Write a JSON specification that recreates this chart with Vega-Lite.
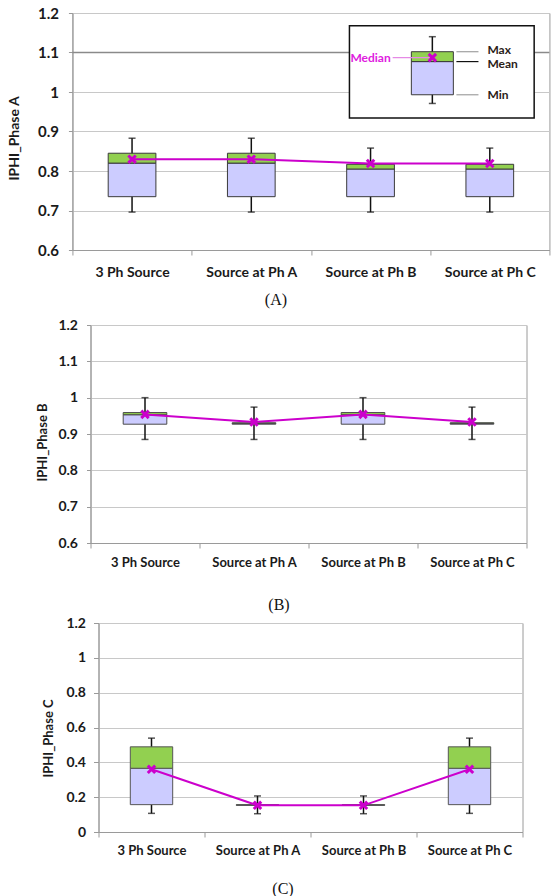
{
  "$schema": "https://vega.github.io/schema/vega-lite/v6.json",
  "background": "white",
  "padding": {"left": 6, "top": 5, "right": 0, "bottom": 0},
  "config": {
    "view": {"stroke": "#9a9a9a", "strokeWidth": 1},
    "font": "Lato",
    "axis": {
      "labelFont": "Lato", "labelFontWeight": "bold", "labelColor": "#1a1a1a",
      "titleFont": "Lato", "titleFontWeight": "bold", "titleColor": "#1a1a1a",
      "domainColor": "#9a9a9a", "tickColor": "#9a9a9a", "gridColor": "#c8c8c8"
    }
  },
  "datasets": {
    "A": [
      {"cat": "3 Ph Source", "wlo": 0.696, "blo": 0.735, "mean": 0.820, "bhi": 0.845, "med": 0.830, "whi": 0.883},
      {"cat": "Source at Ph A", "wlo": 0.696, "blo": 0.735, "mean": 0.820, "bhi": 0.845, "med": 0.830, "whi": 0.883},
      {"cat": "Source at Ph B", "wlo": 0.696, "blo": 0.735, "mean": 0.805, "bhi": 0.817, "med": 0.819, "whi": 0.858},
      {"cat": "Source at Ph C", "wlo": 0.696, "blo": 0.735, "mean": 0.805, "bhi": 0.817, "med": 0.819, "whi": 0.858}
    ],
    "B": [
      {"cat": "3 Ph Source", "wlo": 0.885, "blo": 0.927, "mean": 0.953, "bhi": 0.959, "med": 0.954, "whi": 1.0},
      {"cat": "Source at Ph A", "wlo": 0.885, "blo": 0.927, "mean": 0.929, "bhi": 0.931, "med": 0.933, "whi": 0.974},
      {"cat": "Source at Ph B", "wlo": 0.885, "blo": 0.927, "mean": 0.953, "bhi": 0.959, "med": 0.954, "whi": 1.0},
      {"cat": "Source at Ph C", "wlo": 0.885, "blo": 0.927, "mean": 0.929, "bhi": 0.931, "med": 0.933, "whi": 0.974}
    ],
    "C": [
      {"cat": "3 Ph Source", "wlo": 0.107, "blo": 0.157, "mean": 0.366, "bhi": 0.489, "med": 0.360, "whi": 0.539},
      {"cat": "Source at Ph A", "wlo": 0.105, "blo": 0.153, "mean": 0.155, "bhi": 0.157, "med": 0.153, "whi": 0.207},
      {"cat": "Source at Ph B", "wlo": 0.105, "blo": 0.153, "mean": 0.155, "bhi": 0.157, "med": 0.153, "whi": 0.207},
      {"cat": "Source at Ph C", "wlo": 0.107, "blo": 0.157, "mean": 0.366, "bhi": 0.489, "med": 0.360, "whi": 0.539}
    ],
    "legBox": [{"x1": 2.823, "x2": 4.372, "y1": 0.934, "y2": 1.168}],
    "legPlot": [{"lx": 3.54, "wlo": 0.971, "blo": 0.993, "mean": 1.077, "bhi": 1.102, "med": 1.087, "whi": 1.140}],
    "legLeaders": [
      {"label": "Max", "v": 1.102, "ly": 1.106},
      {"label": "Mean", "v": 1.077, "ly": 1.070},
      {"label": "Min", "v": 0.993, "ly": 0.992}
    ],
    "refLine": [{"v": 1.1}],
    "empty": [{}]
  },
  "spacing": 2,
  "center": true,
  "vconcat": [
    {
      "width": 477, "height": 237,
      "resolve": {"scale": {"x": "independent"}},
      "layer": [
        {
          "data": {"name": "A"},
          "encoding": {
            "x": {"field": "cat", "type": "nominal", "sort": null,
              "scale": {"paddingInner": 0, "paddingOuter": 0},
              "axis": {"title": ["(A)", ""], "titleFont": "Liberation Serif", "titleFontWeight": "normal", "titleFontSize": 16, "titleLineHeight": 7, "titleColor": "#111", "titlePadding": 12, "titleX": 203, "titleAlign": "center",
                "labelAngle": 0, "labelFontSize": 14, "labelPadding": 10, "tickBand": "extent", "tickSize": 5, "grid": false}}
          },
          "layer": [
            {"mark": {"type": "rule", "color": "#111", "strokeWidth": 1.5},
              "encoding": {"y": {"field": "wlo", "type": "quantitative", "scale": {"domain": [0.6, 1.2]}, "title": "IPHI_Phase A",
                "axis": {"title": "IPHI_Phase A", "values": [0.6, 0.7, 0.8, 0.9, 1, 1.1, 1.2], "tickCount": 12, "format": "~g", "labelFontSize": 15, "labelPadding": 10, "tickSize": 4, "titleFontSize": 14, "titlePadding": 16, "titleY": 125, "grid": true}},
                "y2": {"field": "whi"}}},
            {"mark": {"type": "tick", "color": "#111", "thickness": 1.5, "size": 7},
              "encoding": {"y": {"field": "wlo", "type": "quantitative", "scale": {"domain": [0.6, 1.2]}, "title": "IPHI_Phase A"}}},
            {"mark": {"type": "tick", "color": "#111", "thickness": 1.5, "size": 7},
              "encoding": {"y": {"field": "whi", "type": "quantitative", "scale": {"domain": [0.6, 1.2]}, "title": "IPHI_Phase A"}}},
            {"mark": {"type": "bar", "fill": "#ccccff", "stroke": "#3a3a3a", "strokeWidth": 1, "width": {"band": 0.4}},
              "encoding": {"y": {"field": "blo", "type": "quantitative", "scale": {"domain": [0.6, 1.2]}, "title": "IPHI_Phase A"}, "y2": {"field": "mean"}}},
            {"mark": {"type": "bar", "fill": "#92d050", "stroke": "#3a3a3a", "strokeWidth": 1, "width": {"band": 0.4}},
              "encoding": {"y": {"field": "mean", "type": "quantitative", "scale": {"domain": [0.6, 1.2]}, "title": "IPHI_Phase A"}, "y2": {"field": "bhi"}}},
            {"mark": {"type": "line", "color": "#cc00cc", "strokeWidth": 2},
              "encoding": {"y": {"field": "med", "type": "quantitative", "scale": {"domain": [0.6, 1.2]}, "title": "IPHI_Phase A"}}},
            {"mark": {"type": "point", "shape": "M-1,-1L1,1M-1,1L1,-1", "size": 55, "strokeWidth": 3, "color": "#cc00cc", "filled": false, "opacity": 1},
              "encoding": {"y": {"field": "med", "type": "quantitative", "scale": {"domain": [0.6, 1.2]}, "title": "IPHI_Phase A"}}}
          ]
        },
        {
          "data": {"name": "refLine"},
          "mark": {"type": "rule", "color": "#8a8a8a", "strokeWidth": 1.3},
          "encoding": {"y": {"field": "v", "type": "quantitative", "scale": {"domain": [0.6, 1.2]}, "title": "IPHI_Phase A"}}
        },
        {
          "data": {"name": "legBox"},
          "mark": {"type": "rect", "fill": "white", "stroke": "#111", "strokeWidth": 1.5},
          "encoding": {
            "x": {"field": "x1", "type": "quantitative", "scale": {"domain": [0.5, 4.5]}, "axis": null},
            "x2": {"field": "x2"},
            "y": {"field": "y1", "type": "quantitative", "scale": {"domain": [0.6, 1.2]}, "title": "IPHI_Phase A"},
            "y2": {"field": "y2"}
          }
        },
        {
          "data": {"name": "legLeaders"},
          "layer": [
            {"mark": {"type": "rule", "strokeWidth": 1.2},
              "encoding": {
                "x": {"datum": 3.72, "type": "quantitative", "scale": {"domain": [0.5, 4.5]}, "axis": null},
                "x2": {"datum": 3.905},
                "y": {"field": "v", "type": "quantitative", "scale": {"domain": [0.6, 1.2]}, "title": "IPHI_Phase A"},
                "stroke": {"field": "label", "type": "nominal", "scale": {"domain": ["Max", "Mean", "Min"], "range": ["#a0a0a0", "#111111", "#a0a0a0"]}, "legend": null}
              }},
            {"mark": {"type": "text", "align": "left", "baseline": "middle", "fontWeight": "bold", "fontSize": 12, "color": "#2b2218", "font": "Lato"},
              "encoding": {
                "x": {"datum": 3.98, "type": "quantitative", "scale": {"domain": [0.5, 4.5]}, "axis": null},
                "y": {"field": "ly", "type": "quantitative", "scale": {"domain": [0.6, 1.2]}, "title": "IPHI_Phase A"},
                "text": {"field": "label"}
              }}
          ]
        },
        {
          "data": {"name": "legPlot"},
          "encoding": {"x": {"field": "lx", "type": "quantitative", "scale": {"domain": [0.5, 4.5]}, "axis": null}},
          "layer": [
            {"mark": {"type": "rule", "color": "#111", "strokeWidth": 1.5},
              "encoding": {"y": {"field": "wlo", "type": "quantitative", "scale": {"domain": [0.6, 1.2]}, "title": "IPHI_Phase A"}, "y2": {"field": "whi"}}},
            {"mark": {"type": "tick", "color": "#111", "thickness": 1.5, "size": 7, "orient": "horizontal"},
              "encoding": {"y": {"field": "wlo", "type": "quantitative", "scale": {"domain": [0.6, 1.2]}, "title": "IPHI_Phase A"}}},
            {"mark": {"type": "tick", "color": "#111", "thickness": 1.5, "size": 7, "orient": "horizontal"},
              "encoding": {"y": {"field": "whi", "type": "quantitative", "scale": {"domain": [0.6, 1.2]}, "title": "IPHI_Phase A"}}},
            {"mark": {"type": "bar", "fill": "#ccccff", "stroke": "#3a3a3a", "strokeWidth": 1, "width": 42},
              "encoding": {"y": {"field": "blo", "type": "quantitative", "scale": {"domain": [0.6, 1.2]}, "title": "IPHI_Phase A"}, "y2": {"field": "mean"}}},
            {"mark": {"type": "bar", "fill": "#92d050", "stroke": "#3a3a3a", "strokeWidth": 1, "width": 42},
              "encoding": {"y": {"field": "mean", "type": "quantitative", "scale": {"domain": [0.6, 1.2]}, "title": "IPHI_Phase A"}, "y2": {"field": "bhi"}}},
            {"mark": {"type": "rule", "color": "#e58ae5", "strokeWidth": 1.2},
              "encoding": {"x": {"datum": 3.2, "type": "quantitative", "scale": {"domain": [0.5, 4.5]}, "axis": null}, "x2": {"field": "lx"},
                "y": {"field": "med", "type": "quantitative", "scale": {"domain": [0.6, 1.2]}, "title": "IPHI_Phase A"}}},
            {"mark": {"type": "point", "shape": "M-1,-1L1,1M-1,1L1,-1", "size": 55, "strokeWidth": 3, "color": "#cc00cc", "filled": false, "opacity": 1},
              "encoding": {"y": {"field": "med", "type": "quantitative", "scale": {"domain": [0.6, 1.2]}, "title": "IPHI_Phase A"}}},
            {"mark": {"type": "text", "align": "right", "baseline": "middle", "fontWeight": "bold", "fontSize": 12, "color": "#e020e0", "font": "Lato", "text": "Median"},
              "encoding": {"x": {"datum": 3.183, "type": "quantitative", "scale": {"domain": [0.5, 4.5]}, "axis": null},
                "y": {"field": "med", "type": "quantitative", "scale": {"domain": [0.6, 1.2]}, "title": "IPHI_Phase A"}}}
          ]
        }
      ]
    },
    {
      "spacing": 0,
      "hconcat": [
        {
          "width": 436, "height": 218,
          "data": {"name": "B"},
          "encoding": {
            "x": {"field": "cat", "type": "nominal", "sort": null,
              "scale": {"paddingInner": 0, "paddingOuter": 0},
              "axis": {"title": "(B)", "titleFont": "Liberation Serif", "titleFontWeight": "normal", "titleFontSize": 16, "titleColor": "#111", "titlePadding": 27, "titleX": 188, "titleAlign": "center",
                "labelAngle": 0, "labelFontSize": 13, "labelPadding": 8, "tickBand": "extent", "tickSize": 5, "grid": false}}
          },
          "layer": [
            {"mark": {"type": "rule", "color": "#111", "strokeWidth": 1.5},
              "encoding": {"y": {"field": "wlo", "type": "quantitative", "scale": {"domain": [0.6, 1.2]}, "title": "IPHI_Phase B",
                "axis": {"title": "IPHI_Phase B", "values": [0.6, 0.7, 0.8, 0.9, 1, 1.1, 1.2], "tickCount": 12, "format": "~g", "labelFontSize": 14, "labelPadding": 9, "tickSize": 4, "titleFontSize": 13, "titlePadding": 8, "titleY": 117, "grid": true}},
                "y2": {"field": "whi"}}},
            {"mark": {"type": "tick", "color": "#111", "thickness": 1.5, "size": 7},
              "encoding": {"y": {"field": "wlo", "type": "quantitative", "scale": {"domain": [0.6, 1.2]}, "title": "IPHI_Phase B"}}},
            {"mark": {"type": "tick", "color": "#111", "thickness": 1.5, "size": 7},
              "encoding": {"y": {"field": "whi", "type": "quantitative", "scale": {"domain": [0.6, 1.2]}, "title": "IPHI_Phase B"}}},
            {"mark": {"type": "bar", "fill": "#ccccff", "stroke": "#4a4a4a", "strokeWidth": 1, "width": {"band": 0.4}},
              "encoding": {"y": {"field": "blo", "type": "quantitative", "scale": {"domain": [0.6, 1.2]}, "title": "IPHI_Phase B"}, "y2": {"field": "mean"}}},
            {"mark": {"type": "bar", "fill": "#92d050", "stroke": "#4a4a4a", "strokeWidth": 1, "width": {"band": 0.4}},
              "encoding": {"y": {"field": "mean", "type": "quantitative", "scale": {"domain": [0.6, 1.2]}, "title": "IPHI_Phase B"}, "y2": {"field": "bhi"}}},
            {"mark": {"type": "line", "color": "#cc00cc", "strokeWidth": 2},
              "encoding": {"y": {"field": "med", "type": "quantitative", "scale": {"domain": [0.6, 1.2]}, "title": "IPHI_Phase B"}}},
            {"mark": {"type": "point", "shape": "M-1,-1L1,1M-1,1L1,-1", "size": 55, "strokeWidth": 3, "color": "#cc00cc", "filled": false, "opacity": 1},
              "encoding": {"y": {"field": "med", "type": "quantitative", "scale": {"domain": [0.6, 1.2]}, "title": "IPHI_Phase B"}}}
          ]
        },
        {"width": 5, "height": 1, "data": {"name": "empty"}, "mark": {"type": "text", "text": ""}, "view": {"stroke": null}}
      ]
    },
    {
      "spacing": 0,
      "hconcat": [
        {
          "width": 424, "height": 209,
          "data": {"name": "C"},
          "encoding": {
            "x": {"field": "cat", "type": "nominal", "sort": null,
              "scale": {"paddingInner": 0, "paddingOuter": 0},
              "axis": {"title": "(C)", "titleFont": "Liberation Serif", "titleFontWeight": "normal", "titleFontSize": 16, "titleColor": "#111", "titlePadding": 23, "titleX": 184, "titleAlign": "center",
                "labelAngle": 0, "labelFontSize": 13, "labelPadding": 7, "tickBand": "extent", "tickSize": 5, "grid": false}}
          },
          "layer": [
            {"mark": {"type": "rule", "color": "#111", "strokeWidth": 1.5},
              "encoding": {"y": {"field": "wlo", "type": "quantitative", "scale": {"domain": [0, 1.2]}, "title": "IPHI_Phase C",
                "axis": {"title": "IPHI_Phase C", "values": [0, 0.2, 0.4, 0.6, 0.8, 1, 1.2], "tickCount": 12, "format": "~g", "labelFontSize": 14, "labelPadding": 8, "tickSize": 5, "titleFontSize": 13, "titlePadding": 10, "titleY": 115, "grid": true}},
                "y2": {"field": "whi"}}},
            {"mark": {"type": "tick", "color": "#111", "thickness": 1.5, "size": 7},
              "encoding": {"y": {"field": "wlo", "type": "quantitative", "scale": {"domain": [0, 1.2]}, "title": "IPHI_Phase C"}}},
            {"mark": {"type": "tick", "color": "#111", "thickness": 1.5, "size": 7},
              "encoding": {"y": {"field": "whi", "type": "quantitative", "scale": {"domain": [0, 1.2]}, "title": "IPHI_Phase C"}}},
            {"mark": {"type": "bar", "fill": "#ccccff", "stroke": "#555555", "strokeWidth": 1, "width": {"band": 0.4}},
              "encoding": {"y": {"field": "blo", "type": "quantitative", "scale": {"domain": [0, 1.2]}, "title": "IPHI_Phase C"}, "y2": {"field": "mean"}}},
            {"mark": {"type": "bar", "fill": "#92d050", "stroke": "#555555", "strokeWidth": 1, "width": {"band": 0.4}},
              "encoding": {"y": {"field": "mean", "type": "quantitative", "scale": {"domain": [0, 1.2]}, "title": "IPHI_Phase C"}, "y2": {"field": "bhi"}}},
            {"mark": {"type": "line", "color": "#cc00cc", "strokeWidth": 2},
              "encoding": {"y": {"field": "med", "type": "quantitative", "scale": {"domain": [0, 1.2]}, "title": "IPHI_Phase C"}}},
            {"mark": {"type": "point", "shape": "M-1,-1L1,1M-1,1L1,-1", "size": 55, "strokeWidth": 3, "color": "#cc00cc", "filled": false, "opacity": 1},
              "encoding": {"y": {"field": "med", "type": "quantitative", "scale": {"domain": [0, 1.2]}, "title": "IPHI_Phase C"}}}
          ]
        },
        {"width": 1, "height": 1, "data": {"name": "empty"}, "mark": {"type": "text", "text": ""}, "view": {"stroke": null}}
      ]
    }
  ]
}
